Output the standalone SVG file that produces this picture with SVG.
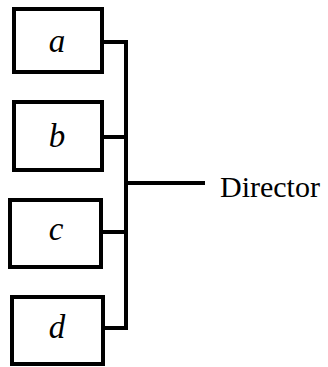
<svg xmlns="http://www.w3.org/2000/svg" width="328" height="367" viewBox="0 0 328 367">
<style>
.box{fill:#fff;stroke:#000;stroke-width:4}
.lbl{font-family:"Liberation Serif",serif;font-style:italic;font-size:33px;text-anchor:middle}
.con{fill:none;stroke:#000;stroke-width:4}
.dir{font-family:"Liberation Serif",serif;font-size:30px}
</style>
<rect width="328" height="367" fill="#fff"/>
<g id="node-a"><rect class="box" x="14" y="9" width="88" height="63"/><text class="lbl" x="57" y="52">a</text></g>
<g id="node-b"><rect class="box" x="14" y="102" width="88" height="68"/><text class="lbl" x="57" y="147">b</text></g>
<g id="node-c"><rect class="box" x="10" y="200" width="91" height="67"/><text class="lbl" x="56" y="240">c</text></g>
<g id="node-d"><rect class="box" x="12" y="297" width="91" height="67"/><text class="lbl" x="57" y="338">d</text></g>
<g id="connectors">
<path class="con" d="M102 42 H126 V328 H103"/>
<path class="con" d="M102 137 H126"/>
<path class="con" d="M101 232 H126"/>
<path class="con" d="M126 183 H205"/>
</g>
<g id="node-director"><text class="dir" x="220" y="197">Director</text></g>
</svg>
